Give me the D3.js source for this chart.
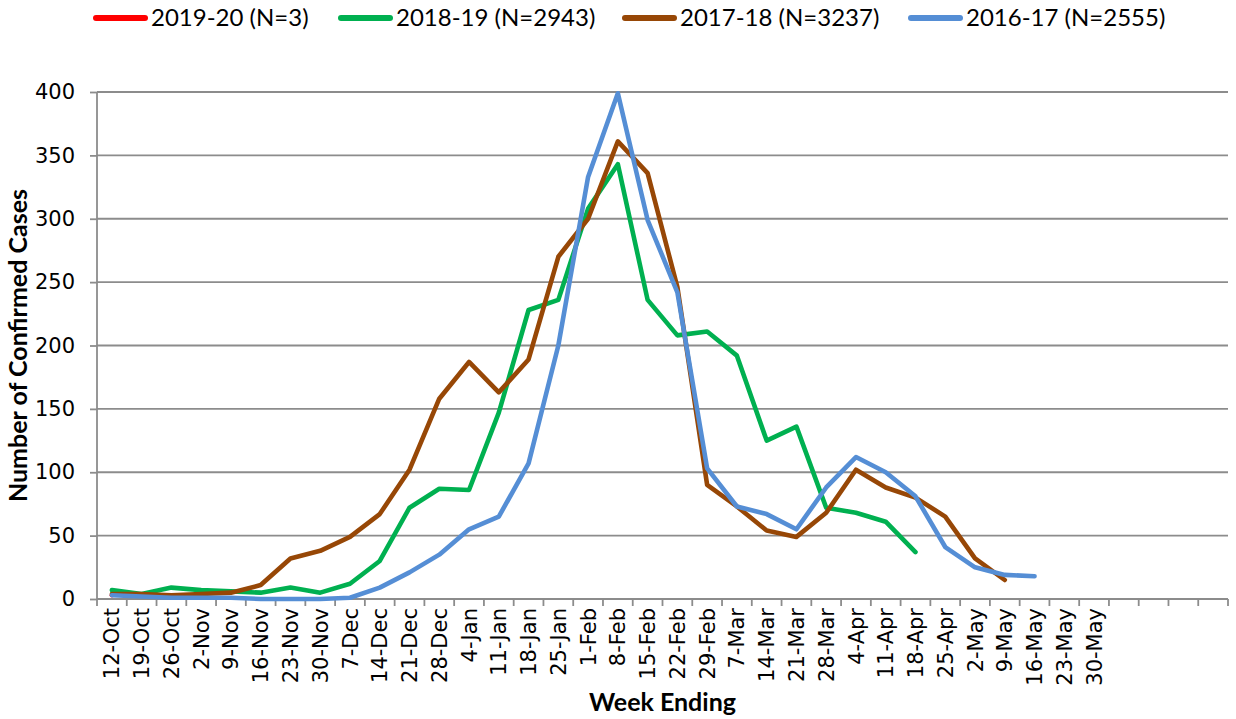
<!DOCTYPE html>
<html>
<head>
<meta charset="utf-8">
<script src="https://cdn.jsdelivr.net/npm/d3@7"></script>
<style>
  html, body { margin: 0; padding: 0; background: #fff; }
  svg { display: block; }
</style>
</head>
<body>
<svg id="chart" width="1236" height="719"></svg>
<script>
// ---------- data ----------
const weekLabels = ["12-Oct","19-Oct","26-Oct","2-Nov","9-Nov","16-Nov","23-Nov","30-Nov",
  "7-Dec","14-Dec","21-Dec","28-Dec","4-Jan","11-Jan","18-Jan","25-Jan",
  "1-Feb","8-Feb","15-Feb","22-Feb","29-Feb","7-Mar","14-Mar","21-Mar","28-Mar",
  "4-Apr","11-Apr","18-Apr","25-Apr","2-May","9-May","16-May","23-May","30-May"];
const emptySlots = 4; // unlabeled categories at the end of the axis
const yTicks = [0, 50, 100, 150, 200, 250, 300, 350, 400];
const seriesNames = ["2019-20 (N=3)", "2018-19 (N=2943)", "2017-18 (N=3237)", "2016-17 (N=2555)"];
const seriesColors = ["#ff0000", "#00b050", "#974706", "#558ed5"];
const cases2019_20 = [3];
const cases2018_19 = [7,4,9,7,6,5,9,5,12,30,72,87,86,147,228,236,308,343,236,208,211,192,125,136,72,68,61,37];
const cases2017_18 = [4,4,3,4,5,11,32,38,49,67,102,158,187,163,189,270,300,361,336,246,90,73,54,49,68,102,88,80,65,32,15];
const cases2016_17 = [3,2,1,1,1,0,0,0,1,9,21,35,55,65,107,200,333,399,299,242,103,73,67,55,88,112,100,81,41,25,19,18];
const seriesValues = [cases2019_20, cases2018_19, cases2017_18, cases2016_17];

// ---------- layout ----------
const plot = { left: 97, right: 1228, top: 92, bottom: 599 };
const gridColor = "#8c8c8c";
const svg = d3.select("#chart");

const nCats = weekLabels.length + emptySlots;
const x = d3.scaleBand().domain(d3.range(nCats)).range([plot.left, plot.right]).padding(0);
const y = d3.scaleLinear().domain([0, 400]).range([plot.bottom, plot.top]);

// y axis ticks and labels
const yAxis = d3.axisLeft(y).tickValues(yTicks).tickSize(7).tickPadding(15);
const gy = svg.append("g").attr("transform", `translate(${plot.left},0)`).call(yAxis);
gy.select(".domain").remove();
gy.selectAll(".tick line").attr("stroke", gridColor).attr("stroke-width", 1.8);
gy.selectAll(".tick text").attr("font-family", "DejaVu Sans, Verdana, sans-serif")
  .attr("font-size", 21).attr("fill", "#000");
// horizontal gridlines
svg.append("g").selectAll("line").data(yTicks.filter(d => d > 0)).join("line")
  .attr("x1", plot.left).attr("x2", plot.right)
  .attr("y1", d => y(d)).attr("y2", d => y(d))
  .attr("stroke", gridColor).attr("stroke-width", 1.8);
// y axis line
svg.append("line").attr("x1", plot.left).attr("x2", plot.left)
  .attr("y1", plot.top).attr("y2", plot.bottom)
  .attr("stroke", gridColor).attr("stroke-width", 1.8);

// x axis: labels at band centers (axisBottom centers band ticks itself)
const xAxis = d3.axisBottom(x).tickSize(0)
  .tickFormat(i => i < weekLabels.length ? weekLabels[i] : "");
const gx = svg.append("g").attr("transform", `translate(0,${plot.bottom})`).call(xAxis);
gx.select(".domain").remove();
gx.selectAll(".tick text")
  .attr("font-family", "DejaVu Sans, Verdana, sans-serif")
  .attr("font-size", 21).attr("fill", "#000")
  .attr("text-anchor", "end")
  .attr("transform", "rotate(-90)")
  .attr("x", -9).attr("y", 0).attr("dy", "0.36em");
// x axis line and boundary tick marks
svg.append("line").attr("x1", plot.left).attr("x2", plot.right)
  .attr("y1", plot.bottom).attr("y2", plot.bottom)
  .attr("stroke", gridColor).attr("stroke-width", 1.8);
const bounds = d3.range(nCats + 1).map(i => i < nCats ? x(i) : x(nCats - 1) + x.bandwidth());
svg.append("g").selectAll("line").data(bounds).join("line")
  .attr("x1", d => d).attr("x2", d => d)
  .attr("y1", plot.bottom).attr("y2", plot.bottom + 7)
  .attr("stroke", gridColor).attr("stroke-width", 1.8);

// series lines
const line = d3.line().x((d, i) => x(i) + x.bandwidth() / 2).y(d => y(d));
seriesValues.forEach((vals, k) => {
  svg.append("path").datum(vals)
    .attr("d", line)
    .attr("fill", "none")
    .attr("stroke", seriesColors[k])
    .attr("stroke-width", 4.6)
    .attr("stroke-linejoin", "round")
    .attr("stroke-linecap", "round");
});

// axis titles
svg.append("text").attr("x", (plot.left + plot.right) / 2).attr("y", 711)
  .attr("text-anchor", "middle")
  .attr("font-family", "Lato, sans-serif").attr("font-weight", "bold").attr("font-size", 25)
  .text("Week Ending");
svg.append("text")
  .attr("transform", `translate(27,${(plot.top + plot.bottom) / 2}) rotate(-90)`)
  .attr("text-anchor", "middle")
  .attr("font-family", "Lato, sans-serif").attr("font-weight", "bold").attr("font-size", 25)
  .text("Number of Confirmed Cases");

// legend
const legendX = [93, 338, 622, 908];
const lg = svg.append("g");
seriesNames.forEach((name, k) => {
  const g = lg.append("g").attr("transform", `translate(${legendX[k]},18)`);
  g.append("line").attr("x1", 3).attr("x2", 52).attr("y1", 0).attr("y2", 0)
    .attr("stroke", seriesColors[k]).attr("stroke-width", 6).attr("stroke-linecap", "round");
  g.append("text").attr("x", 58).attr("y", 0).attr("dy", "0.35em")
    .attr("font-family", "Lato, sans-serif").attr("font-size", 24).attr("fill", "#000")
    .text(name);
});
</script>
</body>
</html>
